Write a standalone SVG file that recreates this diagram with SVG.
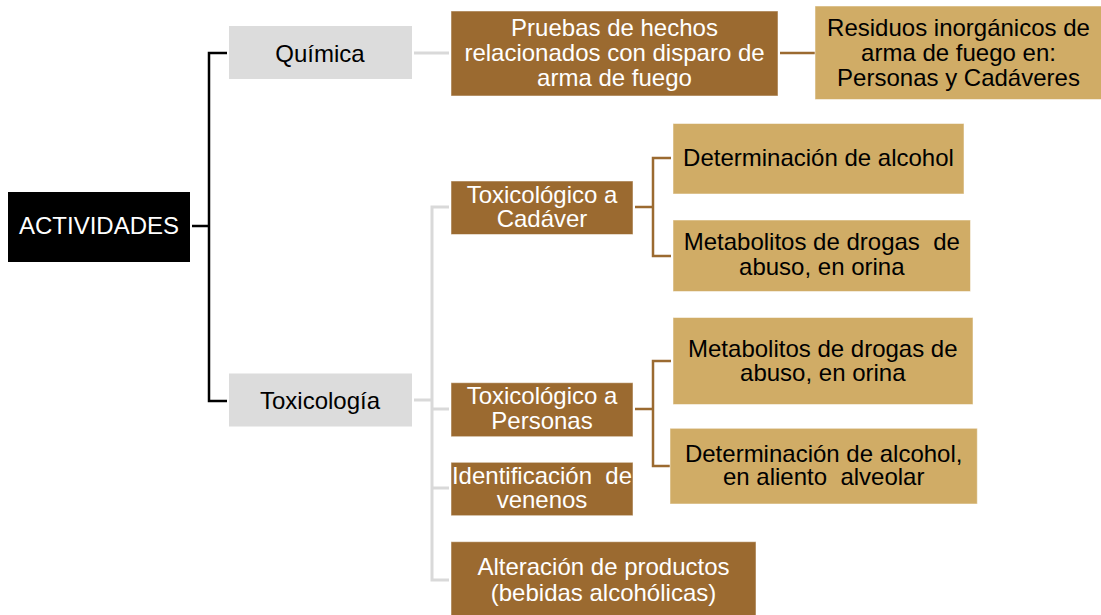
<svg xmlns="http://www.w3.org/2000/svg" width="1101" height="615" viewBox="0 0 1101 615">
<style>
text{font-family:"Liberation Sans",Arial,sans-serif;font-size:24px;text-anchor:middle;white-space:pre}
.k{fill:#000000}
.g{fill:#dcdcdc}
.b{fill:#9b6a30;stroke:#ffffff;stroke-opacity:0.5;stroke-width:1}
.t{fill:#d0ac66;stroke:#ffffff;stroke-opacity:0.5;stroke-width:1}
.w{fill:#ffffff}
.d{fill:#000000}
.lk{stroke:#000;stroke-width:2.5;fill:none}
.lg{stroke:#d9d9d9;stroke-width:3;fill:none}
.lb{stroke:#9b6a30;stroke-width:2.5;fill:none}
</style>
<rect width="1101" height="615" fill="#ffffff"/>
<g id="connectors">
<path class="lk" d="M192,226H209M227,53H209V401H227"/>
<path class="lg" d="M414,53H449"/>
<path class="lg" d="M414,400H432M449,207H432V580H449M432,409H449M432,488H449"/>
<path class="lb" d="M780,53H815"/>
<path class="lb" d="M635,207H653M671,158H653V256H671"/>
<path class="lb" d="M635,409H653M671,361H653V466H671"/>
</g>
<g id="actividades"><rect class="k" x="8" y="192" width="182" height="70"/><text class="w" x="99" y="234">ACTIVIDADES</text></g>
<g id="quimica"><rect class="g" x="229" y="26" width="183" height="53"/><text class="d" x="320" y="61.5">Química</text></g>
<g id="toxicologia"><rect class="g" x="229" y="373.5" width="183" height="53"/><text class="d" x="320" y="408.5">Toxicología</text></g>
<g id="pruebas"><rect class="b" x="451" y="11" width="327" height="85"/><text class="w" x="614.5" y="36">Pruebas de hechos</text><text class="w" x="614.5" y="61">relacionados con disparo de</text><text class="w" x="614.5" y="86">arma de fuego</text></g>
<g id="residuos"><rect class="t" x="815" y="6" width="290" height="93.5"/><text class="d" x="958.5" y="36">Residuos inorgánicos de</text><text class="d" x="958.5" y="61">arma de fuego en:</text><text class="d" x="958.5" y="86">Personas y Cadáveres</text></g>
<g id="tox-cadaver"><rect class="b" x="451" y="181" width="182" height="53.5"/><text class="w" x="542" y="202.7">Toxicológico a</text><text class="w" x="542" y="226.7">Cadáver</text></g>
<g id="det-alcohol"><rect class="t" x="673" y="123.5" width="291" height="70.5"/><text class="d" x="818.5" y="165.5">Determinación de alcohol</text></g>
<g id="metab-1"><rect class="t" x="673" y="220" width="297.5" height="71.5"/><text class="d" x="821.8" y="250">Metabolitos de drogas  de</text><text class="d" x="821.8" y="275">abuso, en orina</text></g>
<g id="metab-2"><rect class="t" x="673" y="317.5" width="300" height="87"/><text class="d" x="822.8" y="356.7">Metabolitos de drogas de</text><text class="d" x="822.8" y="380.7">abuso, en orina</text></g>
<g id="tox-personas"><rect class="b" x="451" y="382.7" width="182" height="54"/><text class="w" x="542" y="404">Toxicológico a</text><text class="w" x="542" y="429.3">Personas</text></g>
<g id="det-aliento"><rect class="t" x="670" y="428.3" width="307.3" height="75.7"/><text class="d" x="823.7" y="461.7">Determinación de alcohol,</text><text class="d" x="823.7" y="485">en aliento  alveolar</text></g>
<g id="venenos"><rect class="b" x="451" y="462.3" width="182" height="53.4"/><text class="w" x="542" y="484.3">Identificación  de</text><text class="w" x="542" y="508.3">venenos</text></g>
<g id="alteracion"><rect class="b" x="451" y="541.7" width="305" height="80"/><text class="w" x="603.5" y="575">Alteración de productos</text><text class="w" x="603.5" y="600.7">(bebidas alcohólicas)</text></g>
</svg>
